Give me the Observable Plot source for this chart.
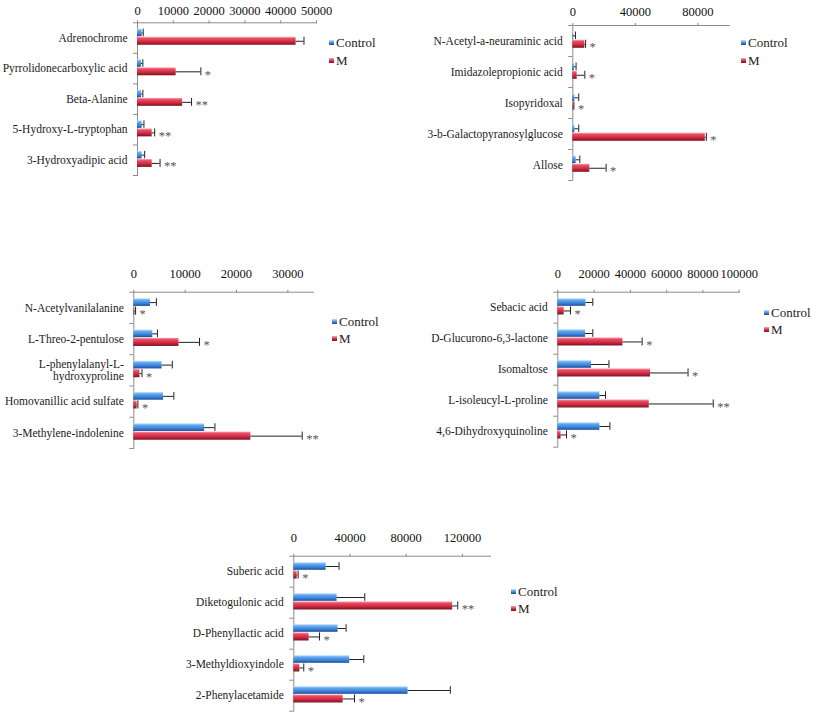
<!DOCTYPE html>
<html>
<head>
<meta charset="utf-8">
<script src="https://cdn.jsdelivr.net/npm/d3@7"></script>
<script src="https://cdn.jsdelivr.net/npm/@observablehq/plot@0.6"></script>
<style>
  html, body { margin: 0; padding: 0; background: #fff; }
  #page { position: relative; width: 813px; height: 713px; overflow: hidden; font-family: "Liberation Serif", "Times New Roman", serif; }
  .panel { position: absolute; }
  .leg { position: absolute; font-size: 13px; color: #222; line-height: 14px; white-space: nowrap; }
  .sw { display: inline-block; width: 5px; height: 5px; margin-right: 2px; vertical-align: 2px; }
</style>
</head>
<body>
<svg width="0" height="0" style="position:absolute">
  <defs>
    <linearGradient id="gRed" x1="0" y1="0" x2="0" y2="1">
      <stop offset="0%" stop-color="#f7a9b3"/>
      <stop offset="22%" stop-color="#ea4c62"/>
      <stop offset="60%" stop-color="#d22a42"/>
      <stop offset="100%" stop-color="#7a1220"/>
    </linearGradient>
    <linearGradient id="gBlue" x1="0" y1="0" x2="0" y2="1">
      <stop offset="0%" stop-color="#bfe2fb"/>
      <stop offset="25%" stop-color="#62a8ee"/>
      <stop offset="65%" stop-color="#3b82da"/>
      <stop offset="100%" stop-color="#1c4c98"/>
    </linearGradient>
  </defs>
</svg>
<div id="page"></div>
<script>
// ---------- Data ----------
const legendLabels = ["Control", "M"];

const cats1 = ["Adrenochrome", "Pyrrolidonecarboxylic acid", "Beta-Alanine", "5-Hydroxy-L-tryptophan", "3-Hydroxyadipic acid"];
const ctrl1 = [1300, 1100, 1100, 1300, 1300];
const ctrlErr1 = [300, 400, 400, 500, 700];
const m1 = [44300, 10800, 12600, 4100, 4100];
const mErr1 = [2200, 6900, 2500, 700, 2200];
const sig1 = ["", "*", "**", "**", "**"];
const ticks1 = [0, 10000, 20000, 30000, 40000, 50000];

const cats2 = ["N-Acetyl-a-neuraminic acid", "Imidazolepropionic acid", "Isopyridoxal", "3-b-Galactopyranosylglucose", "Allose"];
const ctrl2 = [300, 1000, 1300, 1300, 2100];
const ctrlErr2 = [1400, 1100, 2500, 2500, 2400];
const m2 = [7700, 2800, 400, 84700, 10900];
const mErr2 = [500, 4900, 300, 700, 10400];
const sig2 = ["*", "*", "*", "*", "*"];
const ticks2 = [0, 40000, 80000];

const cats3 = ["N-Acetylvanilalanine", "L-Threo-2-pentulose", "L-phenylalanyl-L-hydroxyproline", "Homovanillic acid sulfate", "3-Methylene-indolenine"];
const ctrl3 = [3250, 3700, 5500, 5800, 13800];
const ctrlErr3 = [1150, 900, 2000, 2000, 2000];
const m3 = [200, 8800, 1200, 650, 22800];
const mErr3 = [150, 4000, 400, 150, 10000];
const sig3 = ["*", "*", "*", "*", "**"];
const ticks3 = [0, 10000, 20000, 30000];

const cats4 = ["Sebacic acid", "D-Glucurono-6,3-lactone", "Isomaltose", "L-isoleucyl-L-proline", "4,6-Dihydroxyquinoline"];
const ctrl4 = [15500, 15300, 18600, 23200, 23200];
const ctrlErr4 = [3800, 4000, 9600, 3100, 5500];
const m4 = [3500, 35900, 51100, 50400, 1800];
const mErr4 = [3500, 10600, 20700, 35300, 3000];
const sig4 = ["*", "*", "*", "**", "*"];
const ticks4 = [0, 20000, 40000, 60000, 80000, 100000];

const cats5 = ["Suberic acid", "Diketogulonic acid", "D-Phenyllactic acid", "3-Methyldioxyindole", "2-Phenylacetamide"];
const ctrl5 = [23000, 30800, 31500, 39800, 81300];
const ctrlErr5 = [9200, 19700, 5700, 10000, 30100];
const m5 = [2400, 113100, 10900, 4300, 35100];
const mErr5 = [700, 3600, 7400, 2800, 8100];
const sig5 = ["*", "**", "*", "*", "*"];
const ticks5 = [0, 40000, 80000, 120000];

// label line-breaks as in the reference
const labelBreaks = {"L-phenylalanyl-L-hydroxyproline": "L-phenylalanyl-L-\nhydroxyproline"};

const FONT = '"Liberation Serif", "Times New Roman", serif';
const AXIS = "#8c8c8c";
const page = document.getElementById("page");

function panel(o) {
  const {cats, ctrl, ctrlErr, m, mErr, sig, xmax, ticks, left, top, width, height, x0, x1, y0, y1, leg, pad = 11} = o;
  const rows = cats.map((c, i) => ({cat: c, ctrl: ctrl[i], ctrlHi: ctrl[i] + ctrlErr[i], m: m[i], mHi: m[i] + mErr[i], sig: sig[i]}));
  const bw = (y1 - y0) / cats.length;
  const cT = 0.21 * bw, cB = bw - 0.455 * bw;
  const mT = 0.475 * bw, mB = bw - 0.735 * bw;
  const cDy = ((0.21 + 0.455) / 2 - 0.5) * bw;
  const mDy = ((0.475 + 0.735) / 2 - 0.5) * bw;
  const last = cats[cats.length - 1];
  const chart = Plot.plot({
    width, height,
    marginLeft: x0 - left, marginRight: left + width - x1,
    marginTop: y0 - top, marginBottom: top + height - y1,
    style: {fontFamily: FONT, background: "transparent", overflow: "visible"},
    x: {domain: [0, xmax]},
    y: {domain: cats, padding: 0, round: false},
    marks: [
      Plot.frame({anchor: "top", stroke: AXIS}),
      Plot.frame({anchor: "left", stroke: AXIS}),
      Plot.ruleY(cats, {y: d => d, x1: 0, x2: 0, insetLeft: -4, dy: -bw / 2, stroke: AXIS}),
      Plot.ruleY([last], {y: d => d, x1: 0, x2: 0, insetLeft: -4, dy: bw / 2, stroke: AXIS}),
      Plot.barX(rows, {y: "cat", x1: 0, x2: "ctrl", fill: "url(#gBlue)", insetTop: cT, insetBottom: cB}),
      Plot.barX(rows, {y: "cat", x1: 0, x2: "m", fill: "url(#gRed)", insetTop: mT, insetBottom: mB}),
      Plot.ruleY(rows, {y: "cat", x1: "ctrl", x2: "ctrlHi", dy: cDy, stroke: "#222", strokeWidth: 1}),
      Plot.tickX(rows, {y: "cat", x: "ctrlHi", insetTop: cT, insetBottom: cB, stroke: "#222"}),
      Plot.ruleY(rows, {y: "cat", x1: "m", x2: "mHi", dy: mDy, stroke: "#222", strokeWidth: 1}),
      Plot.tickX(rows, {y: "cat", x: "mHi", insetTop: mT, insetBottom: mB, stroke: "#222"}),
      Plot.text(rows, {y: "cat", x: "mHi", text: "sig", dx: 4, dy: mDy + 3, textAnchor: "start", fontSize: 12.5, fill: "#555", letterSpacing: "3px"}),
      Plot.axisX({anchor: "top", ticks, tickSize: 3, tickPadding: pad, stroke: AXIS, fill: "#111", fontSize: 12.5, tickFormat: d => String(d), label: null}),
      Plot.axisY({tickSize: 0, tickPadding: 10, fill: "#1a1a1a", fontSize: 11.5, tickFormat: d => labelBreaks[d] || d, label: null})
    ]
  });
  const div = document.createElement("div");
  div.className = "panel";
  div.style.left = left + "px";
  div.style.top = top + "px";
  div.appendChild(chart);
  page.appendChild(div);

  const colors = ["linear-gradient(#bfe2fb, #3b82da 60%, #1c4c98)", "linear-gradient(#f7a9b3, #d22a42 55%, #7a1220)"];
  legendLabels.forEach((lab, i) => {
    const l = document.createElement("div");
    l.className = "leg";
    l.style.left = leg.x + "px";
    l.style.top = (leg.ys[i] - 7) + "px";
    l.innerHTML = `<span class="sw" style="background:${colors[i]}"></span>${lab}`;
    page.appendChild(l);
  });
}

panel({cats: cats1, ctrl: ctrl1, ctrlErr: ctrlErr1, m: m1, mErr: mErr1, sig: sig1, xmax: 50000, ticks: ticks1, pad: 5,
  left: 0, top: 0, width: 325, height: 190, x0: 137, x1: 316, y0: 22.3, y1: 175, leg: {x: 329, ys: [43, 61]}});
panel({cats: cats2, ctrl: ctrl2, ctrlErr: ctrlErr2, m: m2, mErr: mErr2, sig: sig2, xmax: 100000, ticks: ticks2, pad: 7,
  left: 390, top: 0, width: 348, height: 195, x0: 572.3, x1: 728.7, y0: 25, y1: 180, leg: {x: 741, ys: [43, 61]}});
panel({cats: cats3, ctrl: ctrl3, ctrlErr: ctrlErr3, m: m3, mErr: mErr3, sig: sig3, xmax: 35000, ticks: ticks3,
  left: 0, top: 262, width: 325, height: 195, x0: 133.3, x1: 313, y0: 291.7, y1: 448, leg: {x: 332, ys: [322, 339]}});
panel({cats: cats4, ctrl: ctrl4, ctrlErr: ctrlErr4, m: m4, mErr: mErr4, sig: sig4, xmax: 100000, ticks: ticks4,
  left: 400, top: 262, width: 355, height: 195, x0: 557.3, x1: 738.7, y0: 291.7, y1: 446.7, leg: {x: 764, ys: [312.7, 330]}});
panel({cats: cats5, ctrl: ctrl5, ctrlErr: ctrlErr5, m: m5, mErr: mErr5, sig: sig5, xmax: 140000, ticks: ticks5,
  left: 190, top: 522, width: 310, height: 191, x0: 293.3, x1: 490, y0: 555.7, y1: 710.7, leg: {x: 511, ys: [591.7, 609]}});
</script>
</body>
</html>
